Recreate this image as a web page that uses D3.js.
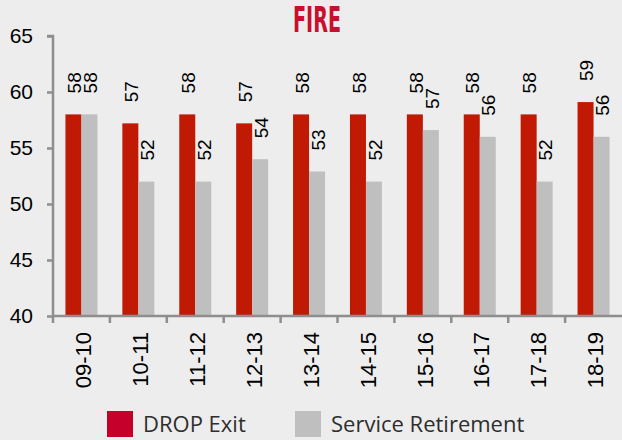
<!DOCTYPE html>
<html>
<head>
<meta charset="utf-8">
<script src="https://cdn.jsdelivr.net/npm/d3@7"></script>
<style>
  html, body { margin: 0; padding: 0; background: #ededed; }
  svg { display: block; }
</style>
</head>
<body>
<svg id="chart" width="622" height="440"></svg>
<script>
const categories = ["09-10","10-11","11-12","12-13","13-14","14-15","15-16","16-17","17-18","18-19"];
const dropExit = [58, 57.2, 58, 57.2, 58, 58, 58, 58, 58, 59.1];
const serviceRetirement = [58, 52, 52, 54, 52.9, 52, 56.6, 56, 52, 56];
const yTicks = [40, 45, 50, 55, 60, 65];
const seriesNames = ["DROP Exit", "Service Retirement"];
const title = "FIRE";

const svg = d3.select("#chart");
const W = 622, H = 440;
svg.append("rect").attr("width", W).attr("height", H).attr("fill", "#ededed");

const x = d3.scaleBand().domain(categories).range([53, 622]).padding(0);
const y = d3.scaleLinear().domain([40, 65]).range([316, 36]);
const barW = 16;
const barColors = ["#c01a04", "#bfbfbf"];
const legendColors = ["#c4002b", "#bfbfbf"];
const axisColor = "#8e8e8e";

// Title
svg.append("text")
  .attr("x", 317).attr("y", 32)
  .attr("text-anchor", "middle")
  .attr("font-family", "'Liberation Sans Narrow', 'DejaVu Sans Condensed', sans-serif")
  .attr("font-weight", "bold")
  .attr("font-size", 35)
  .attr("fill", "#c8102e")
  .attr("textLength", 48)
  .attr("lengthAdjust", "spacingAndGlyphs")
  .text(title);

// Bars
const series = [dropExit, serviceRetirement];
series.forEach((vals, si) => {
  const g = svg.append("g");
  g.selectAll("rect").data(categories).join("rect")
    .attr("x", (d) => x(d) + x.bandwidth() / 2 - barW + si * barW)
    .attr("y", (d, i) => y(vals[i]))
    .attr("width", barW)
    .attr("height", (d, i) => y(40) - y(vals[i]))
    .attr("fill", barColors[si]);
  g.selectAll("text").data(categories).join("text")
    .attr("transform", (d, i) => {
      const cx = x(d) + x.bandwidth() / 2 - barW / 2 + si * barW + 1;
      const ty = y(vals[i]) - 21;
      return `translate(${cx},${ty}) rotate(-90)`;
    })
    .attr("dy", "0.35em")
    .attr("text-anchor", "start")
    .attr("font-family", "'Liberation Sans', Arial, sans-serif")
    .attr("font-size", 19)
    .attr("fill", "#000")
    .text((d, i) => Math.round(vals[i]));
});

// Y axis
const yAxis = svg.append("g").attr("transform", "translate(53,0)")
  .call(d3.axisLeft(y).tickValues(yTicks).tickSize(6).tickPadding(14).tickFormat(d3.format("d")));
yAxis.select(".domain").attr("stroke", axisColor).attr("stroke-width", 2.5).attr("d", `M-6,${y(65)}H0V${y(40)}`);
yAxis.selectAll(".tick line").attr("stroke", axisColor).attr("stroke-width", 2.5);
yAxis.selectAll(".tick text")
  .attr("font-family", "'Liberation Sans', Arial, sans-serif")
  .attr("font-size", 21)
  .attr("fill", "#000");

// X axis
const xAxis = svg.append("g").attr("transform", `translate(0,${y(40)})`)
  .call(d3.axisBottom(x).tickSize(0).tickPadding(0));
xAxis.select(".domain").attr("stroke", axisColor).attr("stroke-width", 2.5).attr("d", `M53,0H622`);
xAxis.selectAll(".tick text")
  .attr("transform", "translate(2,16) rotate(-90)")
  .attr("dy", "0.35em")
  .attr("x", 0).attr("y", 0)
  .attr("text-anchor", "end")
  .attr("font-family", "'Liberation Sans', Arial, sans-serif")
  .attr("font-size", 22)
  .attr("fill", "#000");
// boundary ticks
svg.append("g").selectAll("line").data(categories).join("line")
  .attr("x1", (d) => x(d)).attr("x2", (d) => x(d))
  .attr("y1", y(40)).attr("y2", y(40) + 7)
  .attr("stroke", axisColor).attr("stroke-width", 2.5);

// Legend
const legendX = [107, 295];
seriesNames.forEach((name, i) => {
  svg.append("rect")
    .attr("x", legendX[i]).attr("y", 411)
    .attr("width", 26).attr("height", 26)
    .attr("fill", legendColors[i]);
  svg.append("text")
    .attr("x", legendX[i] + 36).attr("y", 432)
    .attr("font-family", "'Open Sans', 'Noto Sans', sans-serif")
    .attr("font-size", 22)
    .attr("fill", "#2e2e2e")
    .text(name);
});
</script>
</body>
</html>
